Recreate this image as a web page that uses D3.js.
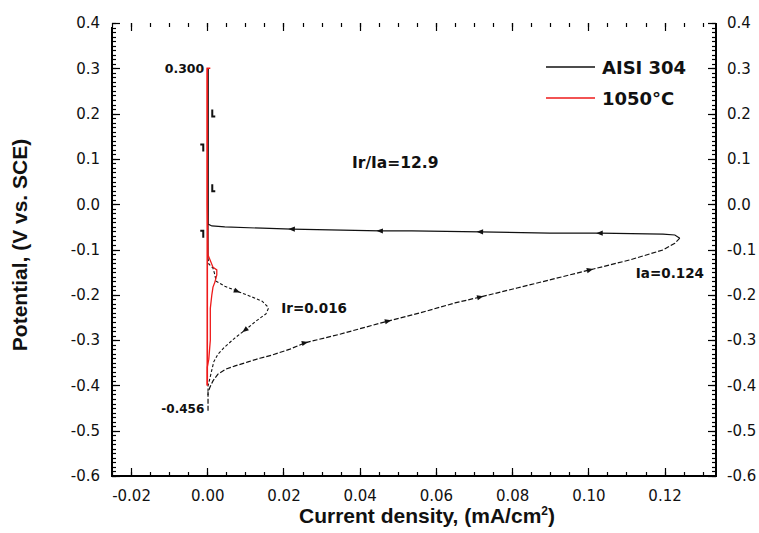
<!DOCTYPE html>
<html>
<head>
<meta charset="utf-8">
<script src="https://cdn.jsdelivr.net/npm/d3@7"></script>
<style>
  html, body { margin: 0; padding: 0; background: #fff; }
  svg { display: block; }
</style>
</head>
<body>
<svg id="chart" width="759" height="533"></svg>
<script>
// Axis ticks and labels
const potentialTicks = [0.4, 0.3, 0.2, 0.1, 0.0, -0.1, -0.2, -0.3, -0.4, -0.5, -0.6];
const potentialLabels = ["0.4", "0.3", "0.2", "0.1", "0.0", "-0.1", "-0.2", "-0.3", "-0.4", "-0.5", "-0.6"];
const currentTicks = [-0.02, 0.00, 0.02, 0.04, 0.06, 0.08, 0.10, 0.12];
const currentLabels = ["-0.02", "0.00", "0.02", "0.04", "0.06", "0.08", "0.10", "0.12"];
const seriesNames = ["AISI 304", "1050°C"];

// AISI 304: activation scan (-0.456 V up to +0.300 V)
const aisiForwardCurrent = [0.0002, 0.0002, 0.0007, 0.0015, 0.0028, 0.0049, 0.0073, 0.0107, 0.0138, 0.0170,
  0.0217, 0.0256, 0.0348, 0.0474, 0.0558, 0.0650, 0.0716, 0.0813, 0.0899, 0.1004,
  0.1109, 0.1196, 0.1227, 0.1240, 0.1227, 0.1196, 0.1030, 0.0899, 0.0716, 0.0537,
  0.0453, 0.0222, 0.0144, 0.0046, 0.0012, 0.0002, 0.0002, 0.0002];
const aisiForwardPotential = [-0.456, -0.415, -0.404, -0.390, -0.375, -0.364, -0.357, -0.348, -0.340, -0.333,
  -0.320, -0.306, -0.287, -0.258, -0.240, -0.218, -0.205, -0.185, -0.167, -0.145,
  -0.123, -0.101, -0.086, -0.075, -0.068, -0.066, -0.064, -0.064, -0.061, -0.059,
  -0.059, -0.055, -0.053, -0.050, -0.048, -0.044, -0.004, 0.300];

// AISI 304: reactivation scan (+0.300 V back down)
const aisiReverseCurrent = [0.0002, 0.0002, 0.0002, 0.0004, 0.0015, 0.0020, 0.0023, 0.0046, 0.0078, 0.0112,
  0.0144, 0.0157, 0.0160, 0.0154, 0.0128, 0.0099, 0.0073, 0.0046, 0.0028, 0.0017,
  0.0012, 0.0007, 0.0002, 0.0002];
const aisiReversePotential = [0.300, 0.000, -0.119, -0.132, -0.141, -0.156, -0.170, -0.181, -0.192, -0.203,
  -0.214, -0.225, -0.231, -0.242, -0.258, -0.278, -0.295, -0.315, -0.331, -0.348,
  -0.366, -0.384, -0.401, -0.421];

// 1050°C treated sample
const heatForwardCurrent = [0.0000, 0.0000, 0.0008];
const heatForwardPotential = [-0.400, 0.300, 0.300];
const heatReverseCurrent = [0.0000, 0.0000, 0.0002, 0.0015, 0.0025, 0.0025, 0.0020, 0.0015, 0.0012, 0.0008,
  0.0008, 0.0004, 0.0000, 0.0000];
const heatReversePotential = [0.300, 0.000, -0.112, -0.139, -0.145, -0.156, -0.172, -0.183, -0.200, -0.230,
  -0.300, -0.342, -0.360, -0.400];

// Scan-direction markers (indices along each scan) and arrows beside the passive branch
const forwardArrowIdx = [11, 13, 16, 19, 26, 28, 30, 31];
const reverseArrowIdx = [8, 15];
const upArrowPotential = [0.200, 0.035];
const downArrowPotential = [0.125, -0.065];

// Peak values
const peakIa = 0.124;
const peakIr = 0.016;
const vertexHigh = 0.300;
const vertexLow = -0.456;

const svg = d3.select("#chart");
const plotLeft = 112, plotRight = 716, plotTop = 23, plotBottom = 476;
const x = d3.scaleLinear().domain([-0.025, 0.1335]).range([plotLeft, plotRight]);
const y = d3.scaleLinear().domain([-0.6, 0.4]).range([plotBottom, plotTop]);

const tickFont = "'DejaVu Sans', sans-serif";
const boldFont = "'Liberation Sans', Arial, sans-serif";

const minorCurrent = d3.range(-25, 134, 5).map(v => v / 1000);
const minorPotential = d3.range(-60, 41, 1).map(v => v / 100);

function styleLabels(g) {
  g.select(".domain").remove();
  g.selectAll(".tick line").remove();
  g.selectAll(".tick text").attr("fill", "#111").style("font-family", tickFont).style("font-size", "15px");
}

// Tick labels
const axes = svg.append("g");
axes.append("g").attr("transform", `translate(${plotLeft},0)`)
  .call(d3.axisLeft(y).tickValues(potentialTicks).tickFormat((d, i) => potentialLabels[i])
    .tickSize(0).tickPadding(12))
  .call(styleLabels);
axes.append("g").attr("transform", `translate(${plotRight},0)`)
  .call(d3.axisRight(y).tickValues(potentialTicks).tickFormat((d, i) => potentialLabels[i])
    .tickSize(0).tickPadding(11))
  .call(styleLabels);
axes.append("g").attr("transform", `translate(0,${plotBottom})`)
  .call(d3.axisBottom(x).tickValues(currentTicks).tickFormat((d, i) => currentLabels[i])
    .tickSize(0).tickPadding(14))
  .call(styleLabels);

// Tick marks, pointing into the plot on all four sides
const marks = svg.append("g").attr("stroke", "#000").attr("stroke-width", 1.2);
function vTicks(values, len, x0, dir) {
  marks.append("g").selectAll("line").data(values).join("line")
    .attr("x1", x0).attr("x2", x0 + dir * len)
    .attr("y1", d => Math.round(y(d)) + 0.5).attr("y2", d => Math.round(y(d)) + 0.5);
}
function hTicks(values, len, y0, dir) {
  marks.append("g").selectAll("line").data(values).join("line")
    .attr("y1", y0).attr("y2", y0 + dir * len)
    .attr("x1", d => Math.round(x(d)) + 0.5).attr("x2", d => Math.round(x(d)) + 0.5);
}
vTicks(minorPotential, 4, plotLeft, 1);
vTicks(potentialTicks, 8, plotLeft, 1);
vTicks(minorPotential, 4, plotRight, -1);
vTicks(potentialTicks, 8, plotRight, -1);
hTicks(minorCurrent, 4, plotBottom, -1);
hTicks(currentTicks, 8, plotBottom, -1);
hTicks(minorCurrent, 4, plotTop, 1);
hTicks(currentTicks, 8, plotTop, 1);

// Frame lines
const frame = svg.append("g").attr("stroke", "#000").attr("stroke-width", 2);
frame.append("line").attr("x1", plotLeft).attr("x2", plotLeft).attr("y1", plotTop + 4).attr("y2", plotBottom + 1);
frame.append("line").attr("x1", plotRight).attr("x2", plotRight).attr("y1", plotTop).attr("y2", plotBottom + 1);
frame.append("line").attr("x1", plotLeft - 1).attr("x2", plotRight + 1).attr("y1", plotBottom).attr("y2", plotBottom);

// Axis titles
const xTitle = svg.append("text")
  .attr("x", 427).attr("y", 523).attr("text-anchor", "middle")
  .style("font-family", boldFont).style("font-weight", "bold").style("font-size", "21px")
  .attr("fill", "#111");
xTitle.append("tspan").text("Current density, (mA/cm");
xTitle.append("tspan").attr("dy", -8).style("font-size", "12px").text("2");
xTitle.append("tspan").attr("dy", 8).text(")");

svg.append("text")
  .attr("transform", "translate(27,245) rotate(-90)")
  .attr("text-anchor", "middle")
  .style("font-family", boldFont).style("font-weight", "bold").style("font-size", "21px")
  .attr("fill", "#111")
  .text("Potential, (V vs. SCE)");

// Curves
const line = d3.line().x(d => x(d[0])).y(d => y(d[1]));
const zip = (a, b) => a.map((v, i) => [v, b[i]]);

const aisiFwd = zip(aisiForwardCurrent, aisiForwardPotential);
const aisiRev = zip(aisiReverseCurrent, aisiReversePotential);
const heatFwd = zip(heatForwardCurrent, heatForwardPotential);
const heatRev = zip(heatReverseCurrent, heatReversePotential);

const tipIdx = aisiForwardCurrent.indexOf(d3.max(aisiForwardCurrent));
const curves = svg.append("g").attr("fill", "none");

// AISI 304 activation branch, then the passive return
curves.append("path").attr("d", line(aisiFwd.slice(0, tipIdx + 1)))
  .attr("stroke", "#111").attr("stroke-width", 1.2).attr("stroke-dasharray", "5,2");
curves.append("path").attr("d", line(aisiFwd.slice(tipIdx)))
  .attr("stroke", "#111").attr("stroke-width", 1.2);
curves.append("path").attr("d", line(aisiRev.slice(0, 3)))
  .attr("stroke", "#111").attr("stroke-width", 1.2);
curves.append("path").attr("d", line(aisiRev.slice(2)))
  .attr("stroke", "#111").attr("stroke-width", 1.1).attr("stroke-dasharray", "3,2");

// 1050°C
curves.append("path").attr("d", line(heatFwd))
  .attr("stroke", "#ee1a1a").attr("stroke-width", 1.6);
curves.append("path").attr("d", line(heatRev))
  .attr("stroke", "#ee1a1a").attr("stroke-width", 1.3);

// Direction markers along the AISI 304 curve
const arrows = svg.append("g").attr("fill", "#111");
function arrowAt(pts, i) {
  const p0 = [x(pts[i][0]), y(pts[i][1])];
  const p1 = [x(pts[i + 1][0]), y(pts[i + 1][1])];
  const a = Math.atan2(p1[1] - p0[1], p1[0] - p0[0]) * 180 / Math.PI;
  arrows.append("path")
    .attr("d", "M3.5,0 L-3,-2.6 L-3,2.6 Z")
    .attr("transform", `translate(${p0[0]},${p0[1]}) rotate(${a})`);
}
forwardArrowIdx.forEach(i => arrowAt(aisiFwd, i));
reverseArrowIdx.forEach(i => arrowAt(aisiRev, i));

// Arrows beside the passive vertical branch
upArrowPotential.forEach(v => {
  const cx = x(0) + 5, cy = y(v);
  arrows.append("path").attr("d", `M${cx},${cy - 4} L${cx},${cy + 3} L${cx + 3},${cy + 3}`)
    .attr("fill", "none").attr("stroke", "#111").attr("stroke-width", 2);
});
downArrowPotential.forEach(v => {
  const cx = x(0) - 4, cy = y(v);
  arrows.append("path").attr("d", `M${cx - 3},${cy - 3} L${cx},${cy - 3} L${cx},${cy + 4}`)
    .attr("fill", "none").attr("stroke", "#111").attr("stroke-width", 2);
});

// Annotations
const annFont = "'DejaVu Sans', sans-serif";
const ann = svg.append("g").attr("fill", "#111")
  .style("font-family", annFont).style("font-weight", "bold");
ann.append("text").attr("x", x(0) - 3).attr("y", y(vertexHigh) + 5)
  .attr("text-anchor", "end").style("font-size", "12.5px").text(d3.format(".3f")(vertexHigh));
ann.append("text").attr("x", x(0) - 3).attr("y", y(vertexLow) + 2)
  .attr("text-anchor", "end").style("font-size", "12px").text(d3.format(".3f")(vertexLow).replace("−", "-"));
const irIdx = aisiReverseCurrent.indexOf(d3.max(aisiReverseCurrent));
ann.append("text").attr("x", x(peakIr) + 13).attr("y", y(aisiReversePotential[irIdx]) + 4)
  .style("font-size", "13.5px").text("Ir=" + d3.format(".3f")(peakIr));
ann.append("text").attr("x", x(peakIa) - 44).attr("y", y(aisiForwardPotential[tipIdx]) + 40)
  .style("font-size", "13.5px").text("Ia=" + d3.format(".3f")(peakIa));
ann.append("text").attr("x", 352).attr("y", 168)
  .style("font-size", "15.5px").text("Ir/Ia=" + d3.format(".1f")(100 * peakIr / peakIa));

// Legend
const legendColors = ["#111", "#ee1a1a"];
const legend = svg.append("g");
seriesNames.forEach((name, i) => {
  const ly = 67 + i * 31;
  legend.append("line").attr("x1", 546).attr("x2", 595).attr("y1", ly).attr("y2", ly)
    .attr("stroke", legendColors[i]).attr("stroke-width", 1.4);
  legend.append("text").attr("x", 602).attr("y", ly + 6.5)
    .style("font-family", annFont).style("font-weight", "bold").style("font-size", "18px")
    .attr("fill", "#111").text(name);
});
</script>
</body>
</html>
